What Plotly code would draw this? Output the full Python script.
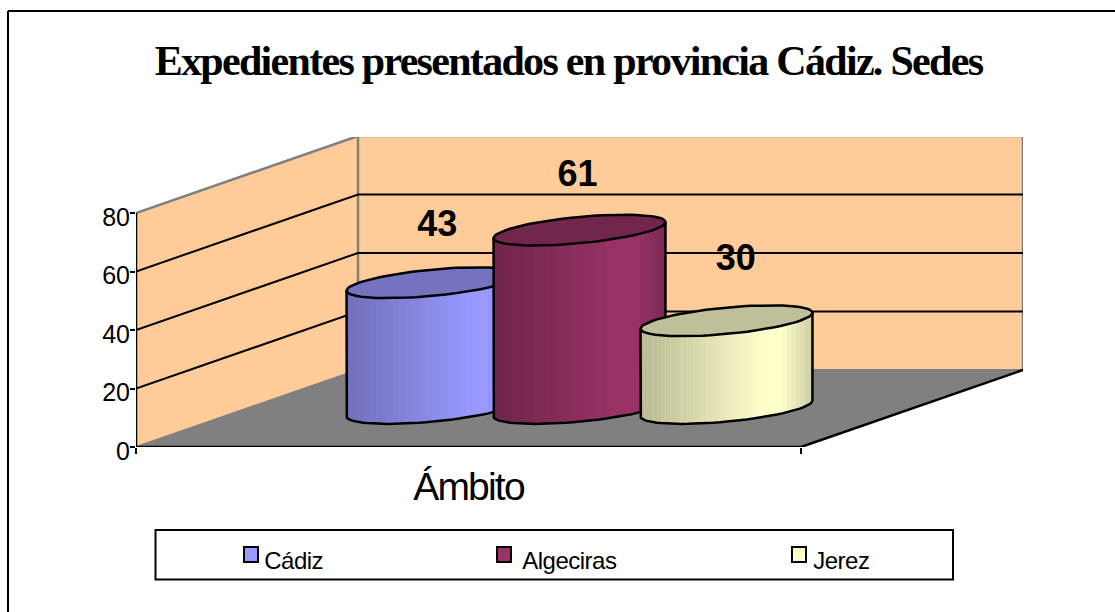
import numpy as np
import plotly.graph_objects as go

TITLE = "Expedientes presentados en provincia Cádiz. Sedes"
CATEGORY = "Ámbito"
SERIES = ["Cádiz", "Algeciras", "Jerez"]
VALUES = [43, 61, 30]
COLORS = [(0x99, 0x99, 0xFF), (0x99, 0x33, 0x66), (0xFF, 0xFF, 0xCC)]
Y_TICKS = [0, 20, 40, 60, 80]
Y_MAX = 80

W, H = 1115, 612
L, R, T, B = 136, 1023, 137, 447        # plot area in pixels
PX_X = 665.0                            # pixels of one category-axis width
PX_Y = (447 - 213) / 80.0               # pixels per value unit
KX = 222 / PX_X                         # oblique shift of the depth axis
KY = 77 / PX_Y
WALL = "#FFCC99"; FLOOR = "#808080"; EDGE = "#808080"
SPACING = 147 / PX_X                    # centre distance of the cylinders
RX = 73.6 / PX_X                        # cylinder radius along the category axis
RZ = 0.2                                # cylinder radius along depth
LABEL_UP = [19.1, 18.1, 20.5]           # label height above the cap, in value units
LABEL_DX = [0.007, -0.003, 0.014]


def proj(x, z, v):
    """Oblique projection of category/depth/value into the axes' units."""
    return np.asarray(x) + KX * np.asarray(z), np.asarray(v) + KY * np.asarray(z)


def shade(c, f):
    return "rgb(%d,%d,%d)" % tuple(min(255, round(k * f)) for k in c)


fig = go.Figure()


def poly(pts, fill, line=None, width=0, closed=True):
    xs = [p[0] for p in pts] + ([pts[0][0]] if closed else [])
    ys = [p[1] for p in pts] + ([pts[0][1]] if closed else [])
    fig.add_trace(go.Scatter(
        x=xs, y=ys, mode="lines", fill="toself" if fill else "none", fillcolor=fill,
        line=dict(color=line or "rgba(0,0,0,0)", width=width),
        hoverinfo="skip", showlegend=False, cliponaxis=False))


def P(x, z, v):
    a, b = proj(x, z, v)
    return (float(a), float(b))


# walls and floor
poly([P(0, 0, 0), P(0, 1, 0), P(0, 1, Y_MAX), P(0, 0, Y_MAX)], WALL)
poly([P(0, 1, 0), P(1, 1, 0), P(1, 1, Y_MAX), P(0, 1, Y_MAX)], WALL)
poly([P(0, 0, 0), P(1, 0, 0), P(1, 1, 0), P(0, 1, 0)], FLOOR)
# wall edges
poly([P(0, 0, Y_MAX), P(0, 1, Y_MAX), P(1, 1, Y_MAX), P(1, 1, 0)], None, EDGE, 2.5, closed=False)
poly([P(0, 1, 0), P(0, 1, Y_MAX)], None, EDGE, 2.5, closed=False)
poly([P(0, 0, 0), P(0, 1, 0), P(1, 1, 0)], None, EDGE, 2, closed=False)
# gridlines
for v in Y_TICKS[1:-1]:
    poly([P(0, 0, v), P(0, 1, v), P(1, 1, v)], None, "#000000", 2, closed=False)
# floor front edges and axis lines
poly([P(1, 1, 0), P(1, 0, 0), P(0, 0, 0), P(0, 0, Y_MAX)], None, "#000000", 2.5, closed=False)

# cylinders
T0 = np.arctan2(KX * RZ, RX)
N = 40
for i, (name, val, col) in enumerate(zip(SERIES, VALUES, COLORS)):
    xc = 0.5 + (i - 1) * SPACING
    ts = np.linspace(T0, T0 - np.pi, N + 1)[::-1]   # left silhouette to right silhouette
    xs = xc + RX * np.cos(ts)
    zs = 0.5 + RZ * np.sin(ts)
    sx = proj(xs, zs, 0)[0]
    u = (sx - sx.min()) / (sx.max() - sx.min())
    # solid body first, so that nothing behind shows through the seams
    body = [P(a, b, 0) for a, b in zip(xs, zs)] + [P(a, b, val) for a, b in zip(xs[::-1], zs[::-1])]
    poly(body, shade(col, 0.95))
    for k in range(N):
        um = (u[k] + u[k + 1]) / 2
        f = float(np.interp(um, [0, 0.72, 0.82, 1], [0.72, 1.0, 1.0, 0.8]))
        poly([P(xs[k], zs[k], 0), P(xs[k + 1], zs[k + 1], 0),
              P(xs[k + 1], zs[k + 1], val), P(xs[k], zs[k], val)], shade(col, f))
    # silhouette
    bottom = [P(a, b, 0) for a, b in zip(xs, zs)]
    poly([P(xs[0], zs[0], val)] + bottom + [P(xs[-1], zs[-1], val)], None, "#000000", 2.5, closed=False)
    # cap
    tc = np.linspace(0, 2 * np.pi, 73)
    cap = [P(xc + RX * np.cos(t), 0.5 + RZ * np.sin(t), val) for t in tc]
    poly(cap, shade(col, 0.75), "#000000", 2.5, closed=False)

# value labels
lx, ly, lt = [], [], []
for i, val in enumerate(VALUES):
    a, b = P(0.5 + (i - 1) * SPACING + LABEL_DX[i], 0.5, val + LABEL_UP[i])
    lx.append(a); ly.append(b); lt.append(str(val))
fig.add_trace(go.Scatter(x=lx, y=ly, text=lt, mode="text", textposition="middle center",
                         textfont=dict(family="Liberation Sans", size=36, color="black", weight="bold"),
                         hoverinfo="skip", showlegend=False, cliponaxis=False))


def paper_x(p):
    return (p - L) / (R - L)


def paper_y(p):
    return (B - p) / (B - T)


shapes = []
line_k = dict(color="black", width=2)
# outer border (open on the right and at the bottom, as in the picture)
shapes.append(dict(type="line", xref="paper", yref="paper", x0=paper_x(8), x1=paper_x(W + 2),
                   y0=paper_y(11), y1=paper_y(11), line=line_k))
shapes.append(dict(type="line", xref="paper", yref="paper", x0=paper_x(8), x1=paper_x(8),
                   y0=paper_y(11), y1=paper_y(H + 2), line=line_k))
# legend box
shapes.append(dict(type="rect", xref="paper", yref="paper", x0=paper_x(155.5), x1=paper_x(953),
                   y0=paper_y(530), y1=paper_y(579.5), line=line_k, fillcolor="white"))
annotations = []
SWATCH_X = [244, 497, 792]
TEXT_X = [261, 518, 810]
for name, col, sx, tx in zip(SERIES, COLORS, SWATCH_X, TEXT_X):
    shapes.append(dict(type="rect", xref="paper", yref="paper", x0=paper_x(sx), x1=paper_x(sx + 14),
                       y0=paper_y(547), y1=paper_y(562), line=dict(color="black", width=2),
                       fillcolor=shade(col, 1)))
    annotations.append(dict(xref="paper", yref="paper", x=paper_x(tx), y=paper_y(560), text=name,
                            showarrow=False, xanchor="left", yanchor="middle",
                            font=dict(family="Liberation Sans", size=24, color="black")))

fig.update_layout(
    width=W, height=H, paper_bgcolor="white", plot_bgcolor="rgba(0,0,0,0)",
    margin=dict(l=L, r=W - R, t=T, b=H - B, pad=0, autoexpand=False),
    title=dict(text=TITLE, x=568.5 / W, xanchor="center", xref="container",
               y=1 - 60 / H, yanchor="middle",
               font=dict(family="Liberation Serif", size=42, color="black", weight="bold")),
    xaxis=dict(range=[0, (R - L) / PX_X], showgrid=False, zeroline=False, showline=False,
               tickmode="array", tickvals=[0.5], ticktext=[CATEGORY], ticks="",
               ticklabelstandoff=13,
               tickfont=dict(family="Liberation Sans", size=39, color="black"),
               minor=dict(tickmode="array", tickvals=[0, 1], ticks="outside", ticklen=6,
                          tickwidth=2, tickcolor="black", showgrid=False)),
    yaxis=dict(range=[0, (B - T) / PX_Y], showgrid=False, zeroline=False, showline=False,
               tickmode="array", tickvals=Y_TICKS, ticks="outside", ticklen=5, tickwidth=2,
               ticklabelstandoff=-5, ticklabelshift=4,
               tickcolor="black", tickfont=dict(family="Liberation Sans", size=25, color="black")),
    shapes=shapes, annotations=annotations, showlegend=False,
)

POST = """
document.body.style.margin = '0';
var gd = document.getElementById('{plot_id}');
function tighten() {
  gd.querySelectorAll('.gtitle').forEach(function (t) { t.style.letterSpacing = '-1.7px'; });
  gd.querySelectorAll('.xtick text').forEach(function (t) { t.style.letterSpacing = '-1.8px'; });
  gd.querySelectorAll('.annotation-text').forEach(function (t) { t.style.letterSpacing = '-0.5px'; });
}
tighten();
gd.on('plotly_afterplot', tighten);
"""
fig.write_html("out.html", post_script=POST, config=dict(displayModeBar=False))
